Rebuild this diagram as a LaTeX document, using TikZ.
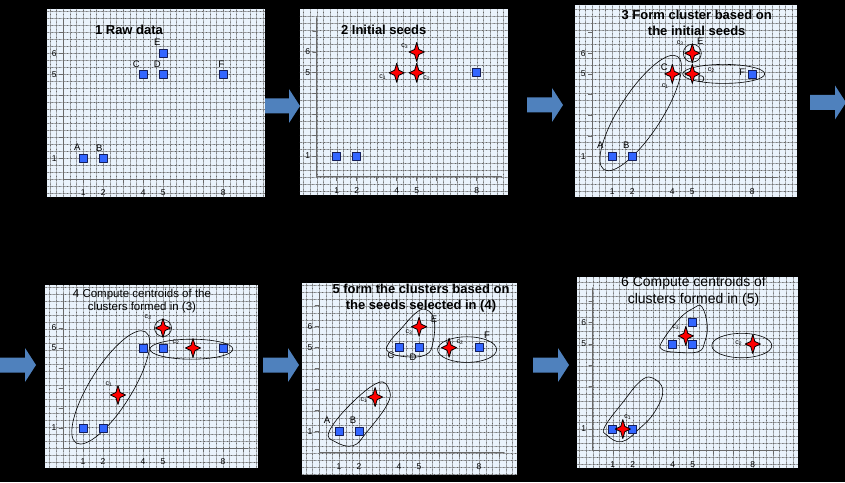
\documentclass[tikz,border=0pt]{standalone}
\usepackage{fontspec}
\setmainfont{Liberation Sans}
\usetikzlibrary{shapes.geometric}
\definecolor{arrowblue}{RGB}{79,129,189}
\definecolor{sheetblue}{RGB}{234,243,252}
\definecolor{ptblue}{RGB}{51,102,255}
\definecolor{ptedge}{RGB}{20,30,90}
\definecolor{axisgray}{RGB}{105,105,105}
\tikzset{
  datapt/.style={draw=ptedge, fill=ptblue, line width=0.7pt, minimum size=8pt, inner sep=0pt},
  seed/.style={star, star points=4, star point ratio=2.6, minimum size=19pt, inner sep=0pt,
    xscale=0.8, fill=red, draw=black, line width=0.8pt},
  cluster/.style={ellipse, draw=black, line width=0.6pt, inner sep=0pt},
  ptlabel/.style={font=\fontsize{9.5}{10}\selectfont, inner sep=0pt},
  seedlabel/.style={font=\fontsize{7}{7}\selectfont, inner sep=0pt},
  ticklabel/.style={font=\fontsize{8.5}{9}\selectfont, inner sep=0pt},
  boldtitle/.style={font=\fontsize{13}{16}\selectfont\bfseries, align=center, inner sep=0pt},
  plaintitle/.style={font=\fontsize{11.5}{13}\selectfont, align=center, inner sep=0pt},
  dotgrid/.style={draw=black!60, line width=0.35pt, dash pattern=on 0.45pt off 0.9pt},
  axisline/.style={draw=axisgray, line width=0.8pt},
}
% dotted sheet of one step: left, bottom, right, top (pt, from the origin)
\newcommand{\panelsheet}[4]{%
  \fill[sheetblue] (#1,#2) rectangle (#3,#4);
  \draw[dotgrid, xstep=6.6667pt, ystep=7pt] (#1,#2) grid (#3,#4);
}
% axes, ticks and the six data points A..F (data units)
\newcommand{\panelaxes}[1]{%
  \path (1,1) coordinate (A) (2,1) coordinate (B) (4,5) coordinate (C)
        (5,5) coordinate (D) (5,6) coordinate (E) (8,5) coordinate (F);
  \draw[axisline] (0,7.65) -- (0,0) -- (9.25,0);
  \foreach \i in {1,...,9} \draw[axisline, line width=0.6pt] (\i,0) -- ++(0pt,-4pt);
  \foreach \j in {1,...,7} \draw[axisline, line width=0.6pt] (0,\j) -- ++(-4pt,0pt);
  \foreach \i in {1,2,4,5,8} \path (\i,0) ++(0pt,-14pt) node[ticklabel] (#1x\i) {\i};
  \foreach \j in {1,5,6} \path (0,\j) ++(-9pt,0pt) node[ticklabel] (#1y\j) {\j};
}
\begin{document}
\begin{tikzpicture}[x=1pt, y=1pt, line join=round, line cap=round]
\fill[black] (0,0) rectangle (845,482);
\useasboundingbox (0,0) rectangle (845,482);
% block arrows between the steps
\foreach \x/\y in {264/376, 527/377, 810/379.5, 0/117, 263/117, 533/117}
  \fill[arrowblue] (\x,\y) ++(0,7.5) -- ++(25,0) -- ++(0,9.5) -- ++(11,-17)
    -- ++(-11,-17) -- ++(0,9.5) -- ++(-25,0) -- cycle;

% 1 raw data
\begin{scope}[shift={(63.3,303)}]
  \panelsheet{-16.3}{-18}{201.7}{170}
  \node[boldtitle] (t1) at (65.7,149) {1 Raw data};
  \begin{scope}[x=20pt, y=20.9pt]
    \panelaxes{p1}
    \foreach \p/\dx/\dy in {A/-6/11, B/-4/10, C/-7/10, D/-6/10, E/-6/11, F/-2/10}{
      \node[datapt] (p1\p) at (\p) {};
      \path (\p) ++(\dx pt,\dy pt) node[ptlabel] (p1l\p) {\p};
    }
  \end{scope}
\end{scope}

% 2 initial seeds
\begin{scope}[shift={(316.7,305.2)}]
  \panelsheet{-16.7}{-18.2}{191.3}{167.8}
  \node[boldtitle] (t2) at (67,146.8) {2 Initial seeds};
  \begin{scope}[x=20pt, y=20.8pt]
    \panelaxes{p2}
    \foreach \p in {A,B,F} \node[datapt] (p2\p) at (\p) {};
    \foreach \p/\k/\dx/\dy in {C/1/-14/-4, D/2/10/-5, E/3/-12/6}{
      \node[seed] (p2c\k) at (\p) {};
      \path (\p) ++(\dx pt,\dy pt) node[seedlabel] (p2lc\k) {c\textsubscript{\k}};
    }
  \end{scope}
\end{scope}

% 3 first clusters
\begin{scope}[shift={(592.3,304.6)}]
  \panelsheet{-17.3}{-19.6}{204.7}{172.4}
  \node[boldtitle] (t3) at (104.4,154.4) {3 Form cluster based on\\the initial seeds};
  \begin{scope}[x=20pt, y=20.7pt]
    \panelaxes{p3}
    \node[cluster, minimum width=135pt, minimum height=42pt, rotate=57] (p3g1) at (2.42,3.11) {};
    \node[cluster, minimum width=82pt, minimum height=19pt] (p3g2) at (6.57,5) {};
    \node[cluster, minimum size=18pt] (p3g3) at (E) {};
    \foreach \p in {A,B,F} \node[datapt] (p3\p) at (\p) {};
    \foreach \p/\k/\dx/\dy in {C/1/-7/-12, D/2/19/4, E/3/-12/10}{
      \node[seed] (p3c\k) at (\p) {};
      \path (\p) ++(\dx pt,\dy pt) node[seedlabel] (p3lc\k) {c\textsubscript{\k}};
    }
    \foreach \p/\dx/\dy in {A/-12/11, B/-6/11, C/-8/7, D/9/-5, E/8/12, F/-10/2}
      \path (\p) ++(\dx pt,\dy pt) node[ptlabel] (p3l\p) {\p};
  \end{scope}
\end{scope}

% 4 new centroids
\begin{scope}[shift={(63,34)}]
  \panelsheet{-18}{-20}{195}{163}
  \node[plaintitle] (t4) at (79,146.5) {4 Compute centroids of the\\clusters formed in (3)};
  \begin{scope}[x=20pt, y=20pt]
    \panelaxes{p4}
    \node[cluster, minimum width=131pt, minimum height=42pt, rotate=58] (p4g1) at (2.39,3.03) {};
    \node[cluster, minimum width=83pt, minimum height=20pt] (p4g2) at (6.42,4.94) {};
    \node[cluster, minimum size=17pt] (p4g3) at (E) {};
    \foreach \p in {A,B,C,D,F} \node[datapt] (p4\p) at (\p) {};
    \foreach \k/\cx/\cy/\dx/\dy in {1/2.75/2.65/-9/11, 2/6.5/5/-17/6, 3/5/6/-15/11}{
      \node[seed] (p4c\k) at (\cx,\cy) {};
      \path (\cx,\cy) ++(\dx pt,\dy pt) node[seedlabel] (p4lc\k) {c\textsubscript{\k}};
    }
  \end{scope}
\end{scope}

% 5 clusters again
\begin{scope}[shift={(319.1,29.3)}]
  \panelsheet{-17.1}{-22.3}{197.9}{169.7}
  \node[boldtitle] (t5) at (101.9,154.2) {5 form the clusters based on\\the seeds selected in (4)};
  \draw[cluster] plot[smooth cycle, tension=0.7] coordinates
    {(69,101) (70,110) (82,124) (97,140) (107,143) (115,133) (114,111) (107,98) (86,96)};
  \draw[cluster] plot[smooth cycle, tension=0.7] coordinates
    {(10,21) (31,48) (59,70) (70,63) (68,48) (48,21) (34,7) (16,11)};
  \begin{scope}[x=20pt, y=21pt]
    \panelaxes{p5}
    \node[cluster, minimum width=59pt, minimum height=25.6pt] (p5g2) at (7.4,4.91) {};
    \foreach \p in {A,B,C,D,F} \node[datapt] (p5\p) at (\p) {};
    \foreach \k/\cx/\cy/\dx/\dy in {1/2.8/2.65/-11/-3, 2/6.5/5/11/6, 3/5/6/-10/-5}{
      \node[seed] (p5c\k) at (\cx,\cy) {};
      \path (\cx,\cy) ++(\dx pt,\dy pt) node[seedlabel] (p5lc\k) {c\textsubscript{\k}};
    }
    \foreach \p/\dx/\dy in {A/-12/11, B/-6/11, C/-8/-8, D/-6/-10, E/15/7, F/8/12}
      \path (\p) ++(\dx pt,\dy pt) node[ptlabel] (p5l\p) {\p};
  \end{scope}
\end{scope}

% 6 final centroids
\begin{scope}[shift={(592.8,31.7)}]
  \panelsheet{-15.8}{-17.7}{205.2}{173.3}
  \node[plaintitle, font=\fontsize{14}{17}\selectfont] (t6) at (100.7,158.6)
    {6 Compute centroids of\\clusters formed in (5)};
  \draw[cluster] plot[smooth cycle, tension=0.7] coordinates
    {(69,101) (70,110) (87,132) (100.5,142) (109,143.6) (114.5,125) (112,108.6) (105.5,98.6) (84,98)};
  \draw[cluster] plot[smooth cycle, tension=0.7] coordinates
    {(12,23.6) (30.5,48.6) (47,68.6) (59,72.6) (70,60.3) (62,38.6) (47,22) (29,8.6) (14,15.3)};
  \begin{scope}[x=20pt, y=21.25pt]
    \panelaxes{p6}
    \node[cluster, minimum width=60pt, minimum height=24.4pt] (p6g2) at (7.45,4.93) {};
    \foreach \p in {A,B,C,D,E} \node[datapt] (p6\p) at (\p) {};
    \foreach \k/\cx/\cy/\dx/\dy in {1/1.5/1/5/12, 2/8/5/-14/1, 3/4.65/5.38/-10/9}{
      \node[seed] (p6c\k) at (\cx,\cy) {};
      \path (\cx,\cy) ++(\dx pt,\dy pt) node[seedlabel] (p6lc\k) {c\textsubscript{\k}};
    }
  \end{scope}
\end{scope}
\end{tikzpicture}
\end{document}
